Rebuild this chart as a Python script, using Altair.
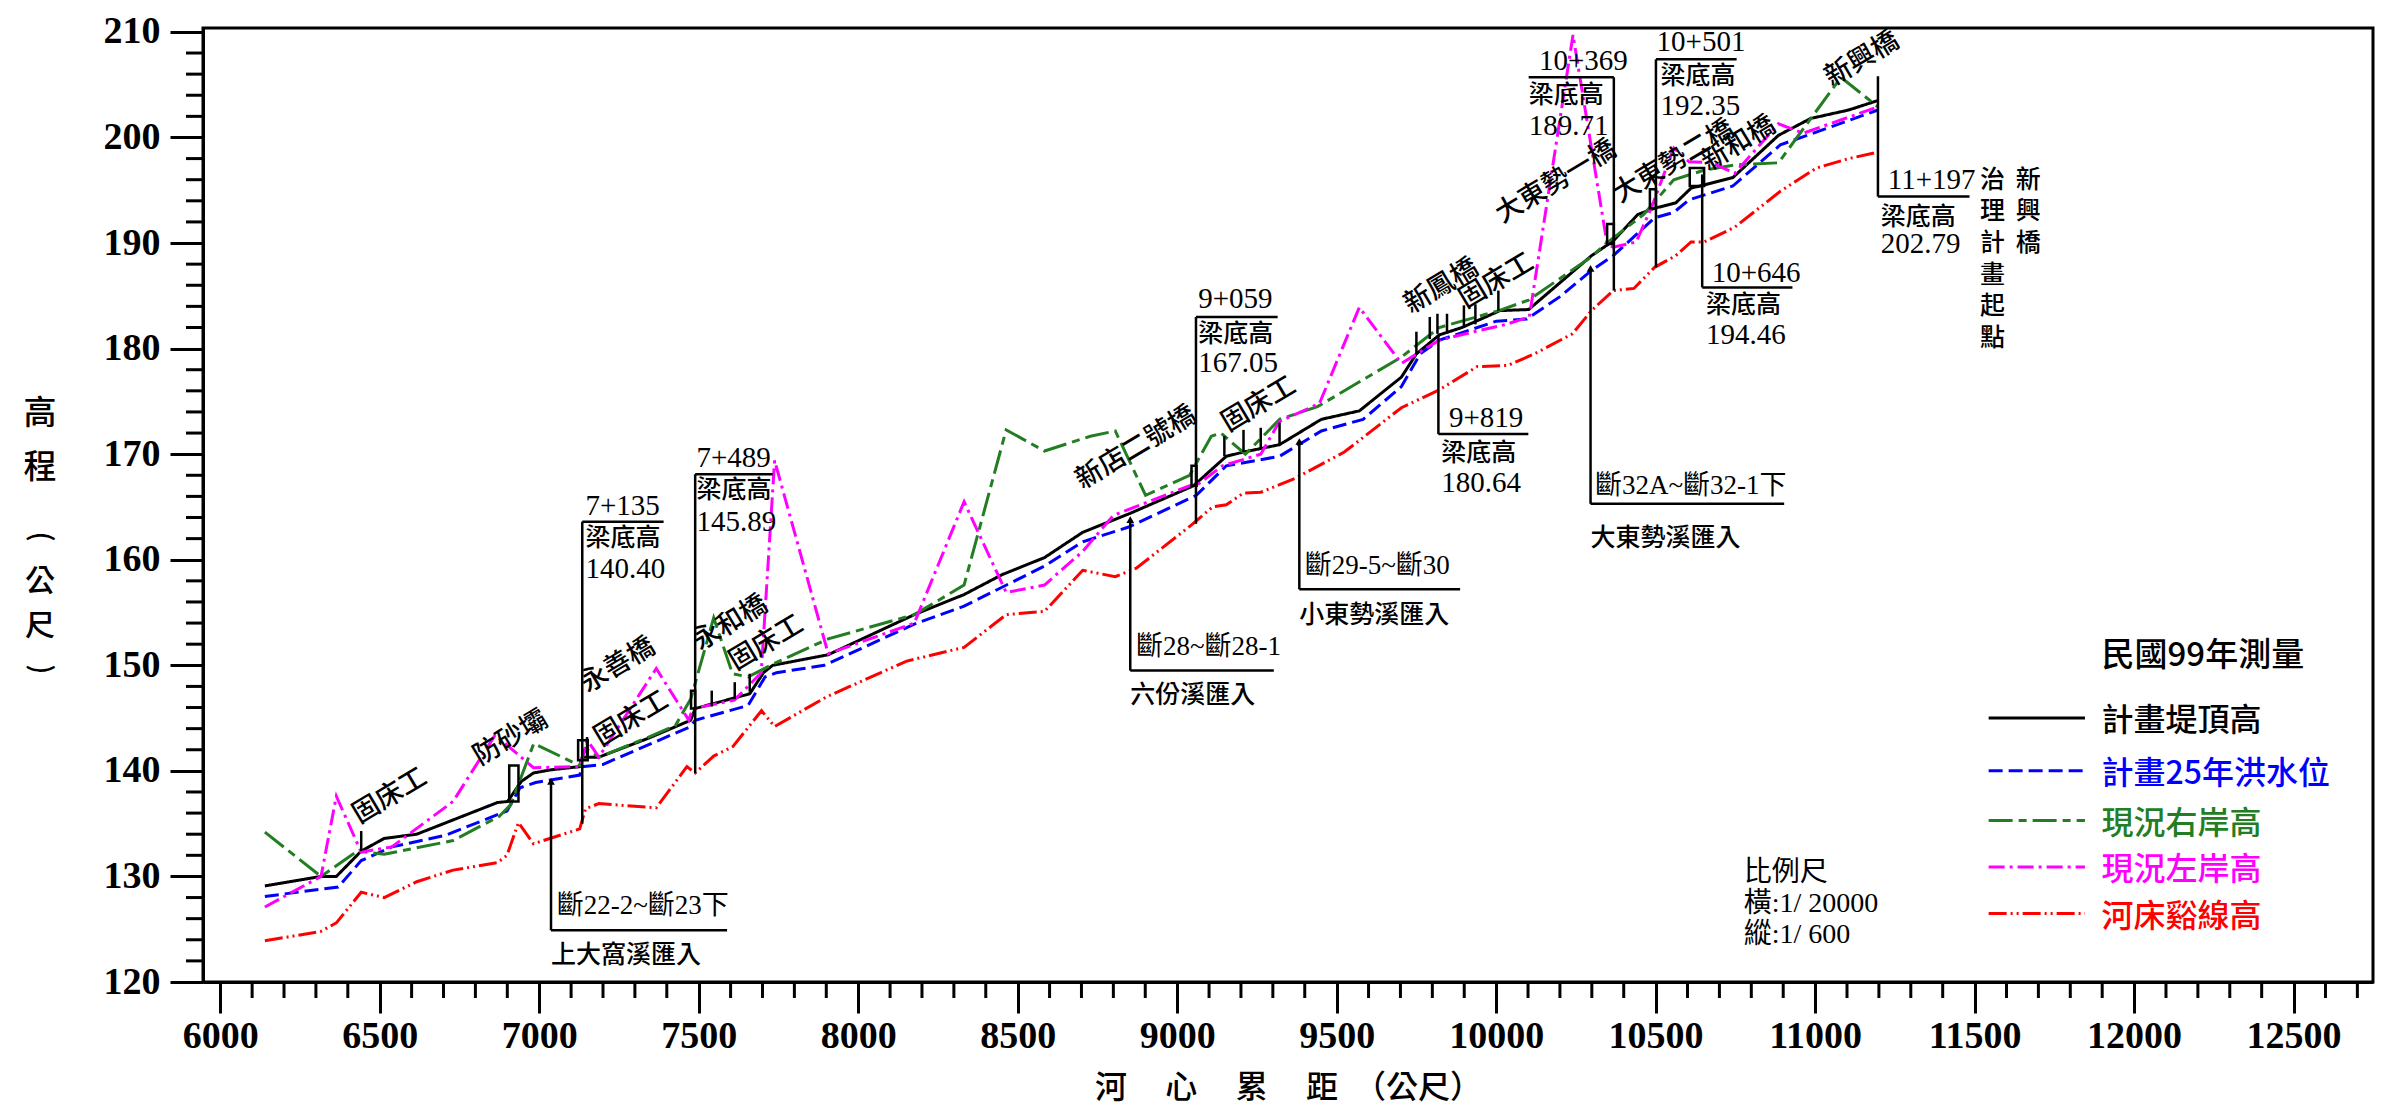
import altair as alt
import pandas as pd

# ---------------- series ----------------
SERIES = ["計畫堤頂高", "計畫25年洪水位", "現況右岸高", "現況左岸高", "河床谿線高"]
COLORS = ["#000000", "#0000ff", "#237d23", "#ff00ff", "#ff0000"]
DASHES = [[1, 0], [14, 6], [24, 6, 8, 6], [16, 5, 3, 5], [18, 4, 2, 4, 2, 4]]
WIDTHS = [3, 3, 2.2, 2.4, 2.2]

TOP_X = [6140, 6316, 6364, 6442, 6514, 6616, 6869, 6901, 6944, 6982, 7037, 7127, 7135, 7187, 7343, 7475, 7489, 7660, 7703, 7732,
         7906, 8176, 8332, 8452, 8584, 8704, 8853, 9051, 9154, 9208, 9321, 9381, 9452, 9571, 9703, 9750, 9822, 9893, 10012, 10102,
         10299, 10367, 10444, 10497, 10563, 10611, 10652, 10742, 10885, 10986, 11105, 11197]
TOP_Y = [129.1, 130.0, 130.0, 132.4, 133.6, 134.0, 137.0, 137.1, 139.0, 139.8, 140.1, 140.4, 141.3, 141.3, 143.1, 144.8, 145.9, 147.3, 149.3, 150.0,
         151.0, 154.8, 156.7, 158.6, 160.2, 162.6, 164.4, 167.0, 169.8, 170.2, 170.9, 172.0, 173.3, 174.1, 177.3, 179.5, 181.3, 182.0, 183.6, 183.7,
         188.8, 190.2, 192.7, 193.3, 193.8, 195.2, 195.5, 196.2, 200.2, 201.8, 202.6, 203.5]

FLD_X = [6140, 6316, 6370, 6442, 6538, 6706, 6899, 6940, 6989, 7127, 7135, 7199, 7475, 7489, 7655, 7708, 7744, 7894, 8176, 8332,
         8584, 8704, 8848, 9060, 9154, 9321, 9381, 9452, 9583, 9703, 9762, 9822, 10001, 10096, 10199, 10299, 10367, 10497, 10557, 10605,
         10742, 10891, 11197]
FLD_Y = [128.1, 128.8, 129.0, 131.5, 132.8, 133.9, 136.2, 138.4, 138.9, 139.6, 140.4, 140.6, 144.2, 144.8, 146.2, 148.9, 149.3, 150.0, 153.9, 155.6,
         159.4, 161.7, 163.1, 166.1, 168.9, 169.8, 170.9, 172.2, 173.3, 176.4, 179.5, 180.8, 182.6, 182.8, 184.9, 187.4, 188.8, 192.4, 192.9, 194.1,
         195.4, 199.3, 202.6]

RB_X = [6140, 6316, 6430, 6514, 6730, 6875, 6911, 6983, 7127, 7145, 7187, 7343, 7427, 7475, 7547, 7606, 7655, 7732, 7906, 8176,
        8332, 8464, 8584, 8728, 8806, 8901, 9039, 9107, 9137, 9214, 9321, 9440, 9703, 9822, 10009, 10102, 10299, 10342, 10462, 10557,
        10652, 10748, 10885, 11081, 11197]
RB_Y = [134.2, 130.0, 132.4, 132.1, 133.4, 135.7, 136.8, 142.6, 140.5, 142.1, 141.3, 143.2, 144.3, 146.8, 154.5, 149.2, 148.9, 150.1, 152.5, 154.8,
        157.6, 172.3, 170.3, 171.7, 172.2, 166.1, 168.0, 171.7, 172.0, 170.0, 173.3, 174.5, 179.2, 182.0, 183.6, 184.6, 188.7, 189.9, 192.7, 196.0,
        196.9, 197.4, 197.6, 205.7, 202.9]

LBK_X = [6140, 6316, 6364, 6442, 6538, 6730, 6862, 6982, 7127, 7151, 7187, 7367, 7469, 7481, 7612, 7696, 7738, 7906, 8176, 8332,
         8464, 8584, 8704, 8800, 9039, 9059, 9142, 9262, 9321, 9446, 9571, 9703, 9822, 9931, 10032, 10104, 10241, 10348, 10367, 10439,
         10486, 10557, 10605, 10676, 10748, 10885, 10963, 11197]
LBK_Y = [127.1, 130.0, 137.6, 132.3, 132.8, 137.1, 143.4, 140.3, 140.4, 142.9, 141.3, 149.7, 144.8, 145.9, 146.7, 149.3, 169.4, 151.1, 154.0, 165.5,
         156.9, 157.6, 160.8, 164.2, 167.0, 167.0, 168.9, 170.0, 173.1, 174.8, 183.9, 178.6, 180.8, 181.6, 182.3, 183.0, 209.7, 189.9, 189.6, 190.1,
         193.3, 199.0, 197.7, 197.6, 196.6, 201.3, 200.4, 202.9]

BED_X = [6140, 6316, 6364, 6442, 6514, 6616, 6730, 6869, 6899, 6935, 6982, 7127, 7145, 7187, 7367, 7463, 7489, 7547, 7607, 7660,
         7697, 7738, 7900, 8152, 8332, 8464, 8584, 8704, 8806, 8872, 9045, 9111, 9154, 9207, 9262, 9369, 9524, 9703, 9822, 9941,
         10036, 10120, 10239, 10299, 10367, 10432, 10497, 10563, 10611, 10652, 10748, 10891, 11004, 11105, 11197]
BED_Y = [123.9, 124.8, 125.6, 128.5, 128.0, 129.5, 130.6, 131.3, 132.0, 135.1, 133.1, 134.5, 136.4, 136.9, 136.5, 140.4, 139.8, 141.4, 142.3, 144.3,
         145.7, 144.2, 147.0, 150.4, 151.7, 154.8, 155.1, 159.0, 158.4, 159.2, 163.3, 165.0, 165.2, 166.3, 166.4, 167.7, 170.2, 174.4, 176.1, 178.3,
         178.4, 179.5, 181.4, 183.6, 185.5, 185.7, 187.7, 188.8, 190.1, 190.1, 191.5, 194.9, 197.1, 198.0, 198.6]

# ---------------- axis ticks ----------------
X_MAJOR = list(range(6000, 12501, 500))
X_MINOR = [v for v in range(6100, 12701, 100) if v % 500 != 0]
Y_MAJOR = list(range(120, 211, 10))
Y_MINOR = [v for v in range(122, 210, 2) if v % 10 != 0]
X_DOMAIN = [5946, 12749]
Y_DOMAIN = [120, 210.37]

# ---------------- bridge boxes (梁底高) ----------------
BR_STA = ["7+135", "7+489", "9+059", "9+819", "10+369", "10+501", "10+646", "11+197"]
BR_VAL = ["140.40", "145.89", "167.05", "180.64", "189.71", "192.35", "194.46", "202.79"]
BR_X = [7135, 7489, 9059, 9819, 10369, 10501, 10646, 11197]
BR_V_LO = [135.0, 139.8, 163.4, 171.9, 185.5, 187.7, 185.8, 194.4]
BR_V_HI = [163.6, 168.1, 183.0, 181.3, 205.7, 207.4, 196.5, 205.8]
BR_H_Y = [163.6, 168.1, 183.0, 171.9, 205.7, 207.4, 185.8, 194.4]
BR_H_X0 = [7135, 7489, 9059, 9819, 10102, 10501, 10646, 11197]
BR_H_X1 = [7390, 7732, 9315, 10101, 10369, 10754, 10929, 11484]
BR_TX = [7145, 7493, 9066, 9852, 10134, 10503, 10676, 11228]
BR_TY = [165.1, 169.6, 184.7, 173.4, 207.2, 209.0, 187.2, 196.0]
BR_LX = [7145, 7493, 9066, 9828, 10102, 10515, 10658, 11206]
BR_LY = [162.1, 166.6, 181.4, 170.15, 204.0, 205.8, 184.1, 192.5]
BR_NY = [159.1, 163.6, 178.6, 167.3, 201.1, 203.0, 181.3, 189.9]

# ---------------- tributary inflows ----------------
TR_X = [7037, 8853, 9383, 10296]
TR_TOP = [139.0, 163.8, 171.2, 187.6]
TR_BOT = [124.9, 149.5, 157.2, 165.3]
TR_X1 = [7589, 9303, 9887, 10903]
TR_SEC = ["斷22-2~斷23下", "斷28~斷28-1", "斷29-5~斷30", "斷32A~斷32-1下"]
TR_NAME = ["上大窩溪匯入", "六份溪匯入", "小東勢溪匯入", "大東勢溪匯入"]
TR_SEC_X = [7055, 8871, 9400, 10310]
TR_SEC_Y = [127.2, 151.7, 159.4, 167.0]
TR_NAME_Y = [122.6, 147.2, 154.8, 162.1]

# ---------------- ground sill ticks & piers ----------------
TK_X = [6442, 7150, 7541, 7613, 7660, 9148, 9208, 9262, 9321, 9750, 9792, 9816, 9846, 9899, 9935, 10007]
TK_LO = [132.4, 141.4, 146.1, 146.8, 147.5, 169.8, 170.2, 170.5, 170.9, 179.5, 180.9, 181.4, 181.6, 182.0, 182.3, 183.6]
TK_HI = [134.3, 143.2, 147.6, 148.4, 149.2, 171.7, 172.3, 172.5, 173.0, 181.6, 183.0, 183.3, 183.3, 184.1, 184.2, 185.5]

PR_X0 = [6906, 7122, 7476, 9045, 10348, 10482, 10607]
PR_X1 = [6935, 7152, 7489, 9061, 10369, 10501, 10652]
PR_Y0 = [137.1, 141.0, 145.9, 167.0, 189.9, 193.3, 195.4]
PR_Y1 = [140.5, 142.9, 147.6, 168.9, 191.8, 195.1, 197.1]

# ---------------- rotated structure labels ----------------
LB_TEXT = ["固床工", "防砂壩", "永善橋", "固床工", "永和橋", "固床工", "新店二號橋", "固床工",
           "新鳳橋", "固床工", "大東勢一橋", "大東勢二橋", "新和橋", "新興橋"]
LB_X = [6532, 6910, 7247, 7289, 7600, 7712, 8871, 9256, 9828, 10001, 10188, 10557, 10760, 11147]
LB_Y = [137.6, 143.1, 150.0, 144.9, 154.0, 152.1, 170.6, 174.7, 185.9, 186.4, 195.8, 197.7, 199.4, 207.4]

# vertical text columns at the upstream end (top-to-bottom, first character at VT_TOP_Y)
VT_COLS = ["治理計畫起點", "新興橋"]
VT_X = [11556, 11668]
VT_TOP_Y = 196.0
VT_STEP = 3.0          # elevation units between characters

# y axis title (stacked characters; parentheses turned sideways)
YT_GROUPS = ["高程", "公尺"]
YT_TOP_Y = [173.8, 157.9]
YT_STEP = [5.1, 4.2]
YT_PAREN = ["(", ")"]
YT_PAREN_Y = [162.2, 149.6]
YT_X = 5435

# legend & scale note
LEG_HEAD = "民國99年測量"
LEG_Y = [144.7, 139.7, 135.0, 130.6, 126.2]
LEG_X0, LEG_X1, LEG_TX = 11544, 11846, 11898
LEG_HEAD_Y = 150.9
SC_TEXT = ["比例尺", "橫:1/ 20000", "縱:1/ 600"]
SC_X = 10776
SC_Y = [130.35, 127.4, 124.45]

X_TITLE = "河\u3000\u2009心\u3000\u2009累\u3000\u2009距\u3000（公尺）"

# ---------------- build ----------------
CJK = "Noto Sans CJK TC"
NUM = "Liberation Serif, Noto Sans CJK TC"
WIDTH, HEIGHT = 2170, 954
PX_PER_Y = HEIGHT / (Y_DOMAIN[1] - Y_DOMAIN[0])
PX_PER_X = WIDTH / (X_DOMAIN[1] - X_DOMAIN[0])

XS = alt.Scale(domain=X_DOMAIN, nice=False, zero=False)
YS = alt.Scale(domain=Y_DOMAIN, nice=False, zero=False)
CS = alt.Scale(domain=SERIES, range=COLORS)
DS = alt.Scale(domain=SERIES, range=DASHES)
WS = alt.Scale(domain=SERIES, range=WIDTHS)

rows = []
for name, xs, ys in zip(SERIES, [TOP_X, FLD_X, RB_X, LBK_X, BED_X], [TOP_Y, FLD_Y, RB_Y, LBK_Y, BED_Y]):
    for i, (a, b) in enumerate(zip(xs, ys)):
        rows.append({"series": name, "x": a, "y": b, "i": i})
df_lines = pd.DataFrame(rows)

X_AXIS = alt.Axis(
    values=X_MAJOR, format="d", tickSize=31,
    tickWidth=3, tickColor="black", domainColor="black", domainWidth=3,
    labelFont=NUM, labelFontSize=38, labelFontWeight="bold", labelColor="black",
    labelPadding=4, labelOverlap=False, labelFlush=False, grid=False,
    title=X_TITLE, titleFont=CJK, titleFontSize=32, titleFontWeight=500,
    titleColor="black", titlePadding=17,
)
Y_AXIS = alt.Axis(
    values=Y_MAJOR, format="d", tickSize=33,
    tickWidth=3, tickColor="black", domainColor="black", domainWidth=3,
    labelFont=NUM, labelFontSize=38, labelFontWeight="bold", labelColor="black",
    labelPadding=10, labelOverlap=False, labelFlush=False, grid=False, title=None,
)


# every layer carries the very same axis definition so that they merge into one
def XA(f="x"):
    return alt.X(f + ":Q", scale=XS, axis=X_AXIS)


def YA(f="y"):
    return alt.Y(f + ":Q", scale=YS, axis=Y_AXIS)


lines = alt.Chart(df_lines).mark_line().encode(
    x=XA(), y=YA(),
    color=alt.Color("series:N", scale=CS, legend=None),
    strokeDash=alt.StrokeDash("series:N", scale=DS, legend=None),
    strokeWidth=alt.StrokeWidth("series:N", scale=WS, legend=None),
    order="i:Q",
)

# minor ticks (outside the frame), lengths expressed in axis units
X_MINOR_LEN = 16 / PX_PER_Y
Y_MINOR_LEN = 17 / PX_PER_X
df_xm = pd.DataFrame({"x": X_MINOR, "y": [Y_DOMAIN[0]] * len(X_MINOR),
                      "y2": [Y_DOMAIN[0] - X_MINOR_LEN] * len(X_MINOR)})
df_ym = pd.DataFrame({"y": Y_MINOR, "x": [X_DOMAIN[0]] * len(Y_MINOR),
                      "x2": [X_DOMAIN[0] - Y_MINOR_LEN] * len(Y_MINOR)})
xminor = alt.Chart(df_xm).mark_rule(color="black", strokeWidth=3).encode(x=XA(), y=YA(), y2="y2:Q")
yminor = alt.Chart(df_ym).mark_rule(color="black", strokeWidth=3).encode(x=XA(), x2="x2:Q", y=YA())

seg = []
for i in range(len(BR_X)):
    seg.append({"x": BR_X[i], "x2": BR_X[i], "y": BR_V_LO[i], "y2": BR_V_HI[i]})
    seg.append({"x": BR_H_X0[i], "x2": BR_H_X1[i], "y": BR_H_Y[i], "y2": BR_H_Y[i]})
for i in range(len(TR_X)):
    seg.append({"x": TR_X[i], "x2": TR_X[i], "y": TR_BOT[i], "y2": TR_TOP[i]})
    seg.append({"x": TR_X[i], "x2": TR_X1[i], "y": TR_BOT[i], "y2": TR_BOT[i]})
for i in range(len(TK_X)):
    seg.append({"x": TK_X[i], "x2": TK_X[i], "y": TK_LO[i], "y2": TK_HI[i]})
df_seg = pd.DataFrame(seg)

segs = alt.Chart(df_seg).mark_rule(color="black", strokeWidth=2.5).encode(
    x=XA(), x2="x2:Q", y=YA(), y2="y2:Q")

df_pr = pd.DataFrame({"x": PR_X0, "x2": PR_X1, "y": PR_Y0, "y2": PR_Y1})
piers = alt.Chart(df_pr).mark_rect(filled=False, color="black", strokeWidth=2.5).encode(
    x=XA(), x2="x2:Q", y=YA(), y2="y2:Q")

df_ar = pd.DataFrame({"x": TR_X, "y": TR_TOP})
arrows = alt.Chart(df_ar).mark_point(shape="triangle-up", filled=True, color="black", size=60, opacity=1).encode(
    x=XA(), y=YA())


def texts(df, font, size, align="left", weight="normal", angle=0, color="black", baseline="middle", **kw):
    return alt.Chart(df).mark_text(font=font, fontSize=size, align=align, baseline=baseline,
                                   fontWeight=weight, angle=angle, color=color, **kw).encode(
        x=XA(), y=YA(), text="t:N")


df_sta = pd.DataFrame({"x": BR_TX, "y": BR_TY, "t": BR_STA})
df_val = pd.DataFrame({"x": BR_LX, "y": BR_NY, "t": BR_VAL})
df_lbl = pd.DataFrame({"x": BR_LX, "y": BR_LY, "t": ["梁底高"] * len(BR_LX)})
df_sec = pd.DataFrame({"x": TR_SEC_X, "y": TR_SEC_Y, "t": TR_SEC})
df_nm = pd.DataFrame({"x": TR_X, "y": TR_NAME_Y, "t": TR_NAME})
df_rot = pd.DataFrame({"x": LB_X, "y": LB_Y, "t": LB_TEXT})

# stacked (one character per line) texts; the first line sits at the given elevation
df_vt = pd.DataFrame({"x": VT_X, "y": [VT_TOP_Y] * len(VT_COLS), "t": ["\n".join(c) for c in VT_COLS]})
df_yt1 = pd.DataFrame({"x": [YT_X], "y": [YT_TOP_Y[0]], "t": ["\n".join(YT_GROUPS[0])]})
df_yt2 = pd.DataFrame({"x": [YT_X], "y": [YT_TOP_Y[1]], "t": ["\n".join(YT_GROUPS[1])]})
df_yp = pd.DataFrame({"x": [YT_X] * 2, "y": YT_PAREN_Y, "t": YT_PAREN})
df_sc = pd.DataFrame({"x": [SC_X] * 3, "y": SC_Y, "t": SC_TEXT})
df_head = pd.DataFrame({"x": [LEG_TX], "y": [LEG_HEAD_Y], "t": [LEG_HEAD]})

df_leg = pd.DataFrame({"series": SERIES, "x": [LEG_X0] * 5, "x2": [LEG_X1] * 5,
                       "y": [v + 0.3 for v in LEG_Y], "ty": LEG_Y, "tx": [LEG_TX] * 5, "t": SERIES})
leg_lines = alt.Chart(df_leg).mark_rule().encode(
    x=XA(), x2="x2:Q", y=YA(),
    color=alt.Color("series:N", scale=CS, legend=None),
    strokeDash=alt.StrokeDash("series:N", scale=DS, legend=None),
    strokeWidth=alt.StrokeWidth("series:N", scale=WS, legend=None),
)
leg_text = alt.Chart(df_leg).mark_text(font=CJK, fontSize=32, align="left", baseline="middle",
                                       fontWeight=500).encode(
    x=XA("tx"), y=YA("ty"), text="t:N",
    color=alt.Color("series:N", scale=CS, legend=None),
)

chart = alt.layer(
    lines,
    xminor,
    yminor,
    segs,
    piers,
    arrows,
    texts(df_sta, NUM, 29),
    texts(df_val, NUM, 29),
    texts(df_lbl, CJK, 25, weight=500),
    texts(df_sec, NUM, 27),
    texts(df_nm, CJK, 25, weight=500),
    texts(df_rot, CJK, 27, align="center", angle=329, weight=500),
    texts(df_vt, CJK, 25, align="center", weight=500, lineBreak="\n", lineHeight=VT_STEP * PX_PER_Y),
    texts(df_yt1, CJK, 33, align="center", weight=500, lineBreak="\n", lineHeight=YT_STEP[0] * PX_PER_Y),
    texts(df_yt2, CJK, 30, align="center", weight=500, lineBreak="\n", lineHeight=YT_STEP[1] * PX_PER_Y),
    texts(df_yp, CJK, 28, align="center", angle=90, weight=500),
    texts(df_sc, NUM, 28),
    texts(df_head, CJK, 33, weight=500),
    leg_lines,
    leg_text,
).properties(
    width=WIDTH, height=HEIGHT,
    padding={"left": 195, "top": 20, "right": 2, "bottom": 127},
    autosize=alt.AutoSizeParams(type="none"),
    background="white",
).configure_view(stroke="black", strokeWidth=3)

chart.save("out.html", embed_options={"renderer": "svg", "actions": False})
